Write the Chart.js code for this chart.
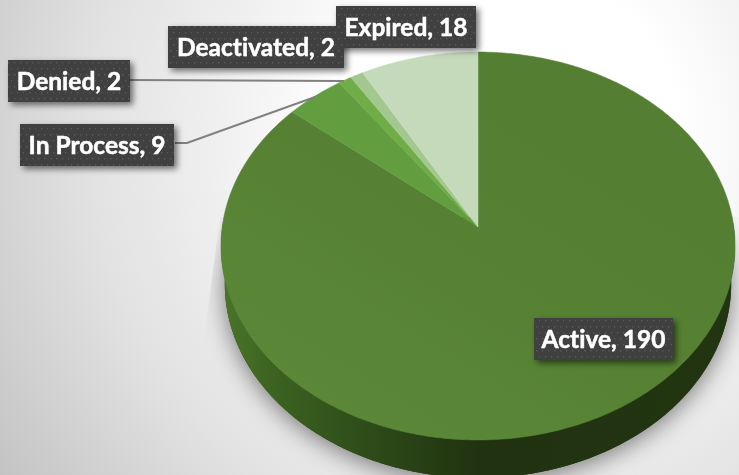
<!DOCTYPE html>
<html>
<head>
<meta charset="utf-8">
<title>Status</title>
<script src="https://cdn.jsdelivr.net/npm/chart.js@4"></script>
<style>
  html, body { margin: 0; padding: 0; background: #f2f2f2; overflow: hidden; }
  canvas { display: block; }
</style>
</head>
<body>
<canvas id="grafico" width="739" height="475"></canvas>
<script>
const categories = ['Active', 'In Process', 'Denied', 'Deactivated', 'Expired'];
const values = [190, 9, 2, 2, 18];
const sliceColors = ['#588235', '#629e3f', '#70ad47', '#a2c88f', '#c5dabb'];

// where the callouts sit, same order as categories
const boxes = [
  { x: 534, y: 318, w: 139 },
  { x: 20, y: 124, w: 154 },
  { x: 8, y: 60, w: 122 },
  { x: 168, y: 26, w: 176 },
  { x: 336, y: 6, w: 140 }
];
const boxHeight = 42;
const drawOrder = [0, 2, 1, 3, 4];

// tilted disc: circle point -> screen, with perspective (k)
const disc = { cx: 478, cy: 227, rx: 255.8, ry: 192.1, k: -0.098, depth: 38, shrink: 0.985 };

function project(angle, r) {
  const u = Math.cos(angle) * r;
  const v = Math.sin(angle) * r;
  const w = 1 + disc.k * v;
  return { x: disc.cx + disc.rx * u / w, y: disc.cy + disc.ry * v / w };
}

function lowerPoint(p) {
  return { x: disc.cx + (p.x - disc.cx) * disc.shrink, y: p.y + disc.depth };
}

function rimPoints(from, to) {
  const pts = [];
  const n = Math.max(2, Math.ceil(Math.abs(to - from) / 0.01));
  for (let i = 0; i <= n; i++) pts.push(project(from + (to - from) * i / n, 1));
  return pts;
}

function tracePoints(ctx, pts) {
  ctx.beginPath();
  pts.forEach((p, i) => i ? ctx.lineTo(p.x, p.y) : ctx.moveTo(p.x, p.y));
  ctx.closePath();
}

function dotPattern(ctx) {
  const tile = document.createElement('canvas');
  tile.width = 12;
  tile.height = 12;
  const t = tile.getContext('2d');
  t.fillStyle = '#404040';
  t.fillRect(0, 0, 12, 12);
  t.fillStyle = '#5a5a5a';
  [[2, 2], [8, 2], [5, 8], [11, 8]].forEach(d => t.fillRect(d[0], d[1], 1.4, 1.4));
  return ctx.createPattern(tile, 'repeat');
}

const tiltedPie = {
  id: 'tiltedPie',
  beforeDraw(chart) {
    const ctx = chart.ctx;
    const g = ctx.createRadialGradient(510, 140, 0, 510, 140, 620);
    g.addColorStop(0, '#ffffff');
    g.addColorStop(170 / 620, '#ffffff');
    g.addColorStop(290 / 620, '#f0f0f0');
    g.addColorStop(420 / 620, '#e2e2e2');
    g.addColorStop(520 / 620, '#d2d2d2');
    g.addColorStop(1, '#c2c2c2');
    ctx.fillStyle = g;
    ctx.fillRect(0, 0, 739, 475);
  },
  beforeDatasetsDraw(chart) {
    const ctx = chart.ctx;
    const arcs = chart.getDatasetMeta(0).data;
    const active = arcs[0];
    const full = rimPoints(0, Math.PI * 2);

    // soft shadow below the disc, cut off on the left like the original
    ctx.save();
    ctx.beginPath();
    ctx.moveTo(739, 217);
    ctx.lineTo(220, 217);
    ctx.lineTo(203, 347);
    ctx.lineTo(203, 475);
    ctx.lineTo(739, 475);
    ctx.closePath();
    ctx.clip();
    ctx.shadowColor = 'rgba(0,0,0,0.5)';
    ctx.shadowBlur = 24;
    ctx.shadowOffsetY = 4;
    ctx.fillStyle = '#2a4016';
    tracePoints(ctx, full.map(lowerPoint));
    ctx.fill();
    ctx.restore();

    // side wall, only the front half shows
    const front = rimPoints(-0.02, Math.PI + 0.02);
    const wall = front.concat(front.map(lowerPoint).reverse());
    const side = ctx.createLinearGradient(222, 0, 735, 0);
    side.addColorStop(0, '#4a7529');
    side.addColorStop(0.1, '#3c6321');
    side.addColorStop(0.28, '#2e4c19');
    side.addColorStop(0.5, '#213210');
    side.addColorStop(1, '#223511');
    ctx.fillStyle = side;
    tracePoints(ctx, wall);
    ctx.fill();

    // top face, slices come from the arcs Chart.js worked out
    arcs.forEach((arc, i) => {
      const pts = [{ x: disc.cx, y: disc.cy }].concat(rimPoints(arc.startAngle, arc.endAngle));
      let fill = sliceColors[i];
      if (arc === active) {
        fill = ctx.createLinearGradient(480, 60, 260, 420);
        fill.addColorStop(0, '#547e31');
        fill.addColorStop(0.5, '#578234');
        fill.addColorStop(1, '#5c8a39');
      }
      ctx.fillStyle = fill;
      ctx.strokeStyle = fill;
      ctx.lineWidth = 0.5;
      tracePoints(ctx, pts);
      ctx.fill();
      ctx.stroke();
    });
    return false;
  },
  // afterDatasetsDraw is skipped when beforeDatasetsDraw returns false
  afterDraw(chart) {
    const ctx = chart.ctx;
    const pattern = dotPattern(ctx);

    // leader lines
    ctx.save();
    ctx.strokeStyle = '#808080';
    ctx.lineWidth = 2;
    ctx.beginPath();
    ctx.moveTo(130, 80);
    ctx.lineTo(344, 81);
    ctx.moveTo(175, 143);
    ctx.lineTo(187, 143);
    ctx.lineTo(315, 97);
    ctx.stroke();
    ctx.restore();

    drawOrder.forEach(i => {
      const b = boxes[i];
      ctx.save();
      ctx.shadowColor = 'rgba(0,0,0,0.55)';
      ctx.shadowBlur = 6;
      ctx.shadowOffsetX = 3;
      ctx.shadowOffsetY = 3;
      ctx.fillStyle = pattern;
      ctx.fillRect(b.x, b.y, b.w, boxHeight);
      ctx.restore();
    });
    // second pass so shadows never land on a neighbouring box
    drawOrder.forEach(i => {
      const b = boxes[i];
      ctx.fillStyle = pattern;
      ctx.fillRect(b.x, b.y, b.w, boxHeight);
    });
    drawOrder.forEach(i => {
      const b = boxes[i];
      const text = categories[i] + ', ' + values[i];
      ctx.font = 'bold 24.5px Lato';
      ctx.letterSpacing = '0.01px'; // keeps the "ti" ligature out
      ctx.textAlign = 'center';
      ctx.textBaseline = 'middle';
      ctx.fillStyle = '#ffffff';
      ctx.strokeStyle = '#ffffff';
      ctx.lineWidth = 0.5;
      ctx.fillText(text, b.x + b.w / 2, b.y + boxHeight / 2 + 1);
      ctx.strokeText(text, b.x + b.w / 2, b.y + boxHeight / 2 + 1);
    });
  }
};

new Chart(document.getElementById('grafico').getContext('2d'), {
  type: 'pie',
  data: {
    labels: categories,
    datasets: [{ data: values, backgroundColor: sliceColors, borderWidth: 0 }]
  },
  options: {
    responsive: false,
    animation: false,
    plugins: { legend: { display: false }, tooltip: { enabled: false } }
  },
  plugins: [tiltedPie]
});
</script>
</body>
</html>
